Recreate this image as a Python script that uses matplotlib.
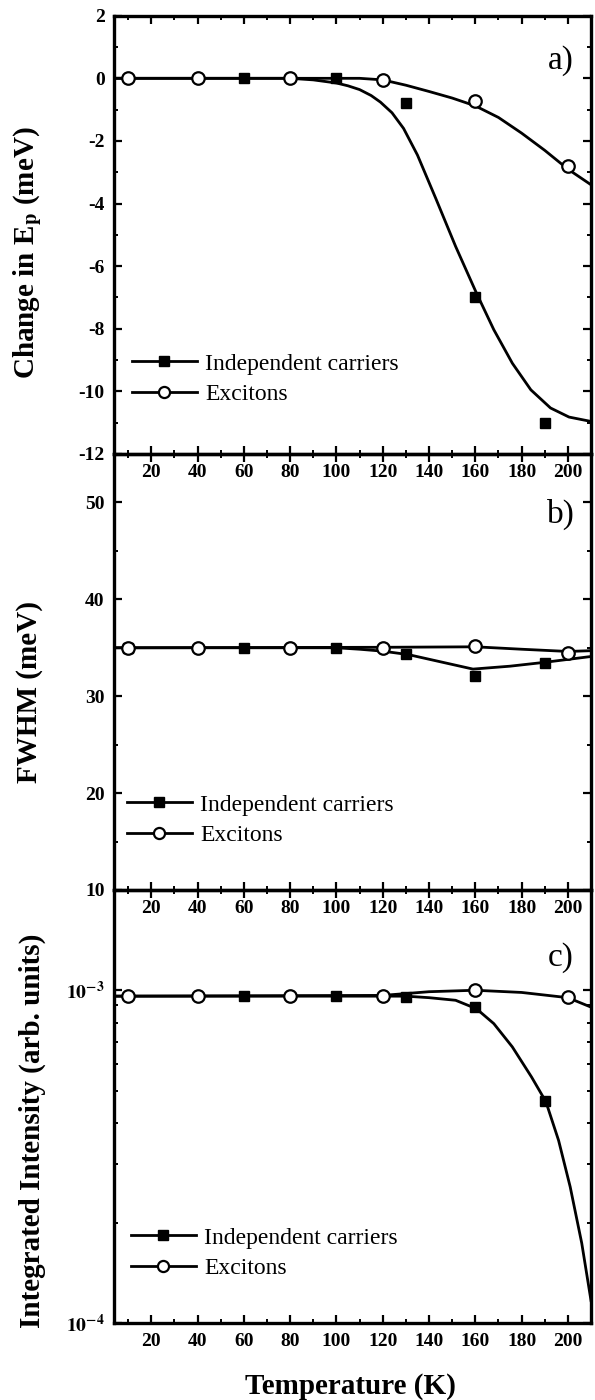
"""
Temperature dependence of the PL peak: energy shift, FWHM and integrated
intensity for independent carriers versus excitons (three stacked panels).

Run with:
    python plot.py
"""

import math
import matplotlib
matplotlib.use("Agg")
import matplotlib.pyplot as plt
from matplotlib.lines import Line2D
from matplotlib.ticker import FixedLocator, LogLocator, NullFormatter, FuncFormatter


# Measured points (temperature in K)
T_EXC = [10, 40, 80, 120, 160, 200]
T_CAR = [60, 100, 130, 160, 190]
T_CAR_B = [10, 60, 100, 130, 160, 190]

SHIFT_CAR = [0.0, 0.0, -0.8, -7.0, -11.0]
SHIFT_EXC = [0.0, 0.0, 0.0, -0.05, -0.72, -2.81]

FWHM_CAR = [35.0, 35.0, 35.0, 34.4, 32.1, 33.4]
FWHM_EXC = [35.0, 35.0, 35.0, 35.0, 35.2, 34.5]

INT_CAR = [9.6e-4, 9.6e-4, 9.55e-4, 8.9e-4, 4.66e-4]
INT_EXC = [9.6e-4, 9.6e-4, 9.6e-4, 9.6e-4, 1.0e-3, 9.55e-4]

# Model curves
FIT_SHIFT_CAR_T = [4, 80, 90, 100, 105, 110, 115, 119, 124, 129, 135, 143,
                   151.5, 160.5, 168, 176, 184, 192.5, 200.5, 210]
FIT_SHIFT_CAR = [0.0, 0.0, -0.05, -0.15, -0.24, -0.36, -0.55, -0.76, -1.1,
                 -1.6, -2.45, -3.85, -5.37, -6.86, -8.03, -9.1, -9.95,
                 -10.53, -10.82, -10.96]
FIT_SHIFT_EXC_T = [4, 110, 120, 130, 140, 150, 160, 170, 180, 190, 200, 210]
FIT_SHIFT_EXC = [0.0, 0.0, -0.05, -0.22, -0.42, -0.63, -0.88, -1.25, -1.75,
                 -2.3, -2.9, -3.4]

FIT_FWHM_CAR_T = [4, 100, 110, 120, 131, 159, 175, 190, 210]
FIT_FWHM_CAR = [35.0, 35.0, 34.85, 34.65, 34.3, 32.8, 33.1, 33.5, 34.1]
FIT_FWHM_EXC_T = [4, 120, 160, 180, 200, 210]
FIT_FWHM_EXC = [35.0, 35.05, 35.1, 34.85, 34.62, 34.7]

FIT_INT_CAR_T = [4, 130, 140, 151.5, 160.5, 168, 176, 184.3, 190.5, 196,
                 201, 206, 210]
FIT_INT_CAR = [9.6e-4, 9.6e-4, 9.5e-4, 9.33e-4, 8.8e-4, 7.94e-4, 6.76e-4,
               5.49e-4, 4.63e-4, 3.54e-4, 2.57e-4, 1.74e-4, 1.17e-4]
FIT_INT_EXC_T = [4, 120, 140, 160, 180, 200, 210]
FIT_INT_EXC = [9.6e-4, 9.65e-4, 9.9e-4, 1.0e-3, 9.85e-4, 9.5e-4, 8.9e-4]

LABEL_CAR = "Independent carriers"
LABEL_EXC = "Excitons"

SERIF = "Liberation Serif"
W, H = 595, 1400


def style_axis(ax):
    # transparent background so the tick labels of the panel above stay visible
    ax.patch.set_visible(False)
    ax.set_xlim(4, 210)
    ax.xaxis.set_major_locator(FixedLocator(range(20, 201, 20)))
    ax.xaxis.set_minor_locator(FixedLocator(range(10, 211, 20)))
    ax.tick_params(which="both", direction="in", top=True, right=True)
    ax.tick_params(which="major", length=6, width=1.6, pad=7,
                   labelsize=14)
    ax.tick_params(which="minor", length=3, width=1.4)
    for s in ax.spines.values():
        s.set_linewidth(2.4)
    for lab in ax.get_xticklabels() + ax.get_yticklabels():
        lab.set_fontweight("bold")
        lab.set_family(SERIF)


def draw(ax, fit_car_t, fit_car, fit_exc_t, fit_exc, t_car, car, exc):
    ax.plot(fit_car_t, fit_car, color="black", lw=2.0)
    ax.plot(fit_exc_t, fit_exc, color="black", lw=2.0)
    ax.plot(t_car, car, ls="none", marker="s", ms=7, color="black")
    ax.plot(T_EXC, exc, ls="none", marker="o", ms=9, mfc="white",
            mec="black", mew=1.6)


def add_legend(ax, x_px, top_px):
    handles = [
        Line2D([], [], color="black", lw=2.0, marker="s", ms=7),
        Line2D([], [], color="black", lw=2.0, marker="o", ms=8,
               mfc="white", mec="black", mew=1.6),
    ]
    ax.legend(handles, [LABEL_CAR, LABEL_EXC], loc="upper left",
              bbox_to_anchor=(x_px / W, 1 - top_px / H),
              bbox_transform=ax.figure.transFigure,
              frameon=False, borderpad=0, borderaxespad=0,
              handlelength=2.75, handletextpad=0.35, labelspacing=0.38,
              prop={"family": SERIF, "size": 17})


if __name__ == "__main__":
    plt.rcParams["mathtext.fontset"] = "stix"
    plt.rcParams["axes.unicode_minus"] = False

    fig = plt.figure(figsize=(W / 100, H / 100), dpi=100)
    left, width = 114.3 / W, (591 - 114.3) / W
    ax_a = fig.add_axes([left, 1 - 454 / H, width, 438.3 / H])
    ax_b = fig.add_axes([left, 1 - 890 / H, width, 436 / H])
    ax_c = fig.add_axes([left, 1 - 1323.3 / H, width, 433.3 / H])

    # a) peak energy shift
    draw(ax_a, FIT_SHIFT_CAR_T, FIT_SHIFT_CAR, FIT_SHIFT_EXC_T, FIT_SHIFT_EXC,
         T_CAR, SHIFT_CAR, SHIFT_EXC)
    ax_a.set_ylim(-12, 2)
    ax_a.yaxis.set_major_locator(FixedLocator(range(-12, 3, 2)))
    ax_a.yaxis.set_minor_locator(FixedLocator(range(-11, 2, 2)))
    style_axis(ax_a)
    add_legend(ax_a, 132, 353)

    # b) FWHM
    draw(ax_b, FIT_FWHM_CAR_T, FIT_FWHM_CAR, FIT_FWHM_EXC_T, FIT_FWHM_EXC,
         T_CAR_B, FWHM_CAR, FWHM_EXC)
    ax_b.set_ylim(10, 55)
    ax_b.yaxis.set_major_locator(FixedLocator([10, 20, 30, 40, 50]))
    ax_b.yaxis.set_minor_locator(FixedLocator([15, 25, 35, 45]))
    style_axis(ax_b)
    add_legend(ax_b, 127, 794)

    # c) integrated intensity, log scale
    draw(ax_c, FIT_INT_CAR_T, FIT_INT_CAR, FIT_INT_EXC_T, FIT_INT_EXC,
         T_CAR, INT_CAR, INT_EXC)
    ax_c.set_yscale("log")
    ax_c.set_ylim(1e-4, 2e-3)
    ax_c.yaxis.set_major_locator(LogLocator(base=10, numticks=5))
    ax_c.yaxis.set_minor_locator(LogLocator(base=10, subs=range(2, 10),
                                            numticks=12))
    ax_c.yaxis.set_minor_formatter(NullFormatter())
    ax_c.yaxis.set_major_formatter(FuncFormatter(
        lambda v, _: r"$\mathbf{10^{%d}}$" % round(math.log10(v))))
    style_axis(ax_c)
    add_legend(ax_c, 131, 1227)

    for ax, lab, ypos in [(ax_a, "a)", 0.897), (ax_b, "b)", 0.862),
                          (ax_c, "c)", 0.845)]:
        ax.text(0.937, ypos, lab, transform=ax.transAxes, ha="center",
                va="center", fontsize=24, family=SERIF)

    ylab = dict(rotation=90, ha="center", va="center", fontsize=21,
                fontweight="bold", family=SERIF)
    fig.text(28 / W, 1 - 253 / H, r"Change in E$_\mathbf{p}$ (meV)", **ylab)
    fig.text(30 / W, 1 - 692 / H, "FWHM (meV)", **ylab)
    fig.text(32 / W, 1 - 1131 / H, "Integrated Intensity (arb. units)", **ylab)
    fig.text(350 / W, 1 - 1386 / H, "Temperature (K)", ha="center",
             va="center", fontsize=21, fontweight="bold", family=SERIF)

    fig.savefig("out.png", dpi=100)
    plt.close(fig)
